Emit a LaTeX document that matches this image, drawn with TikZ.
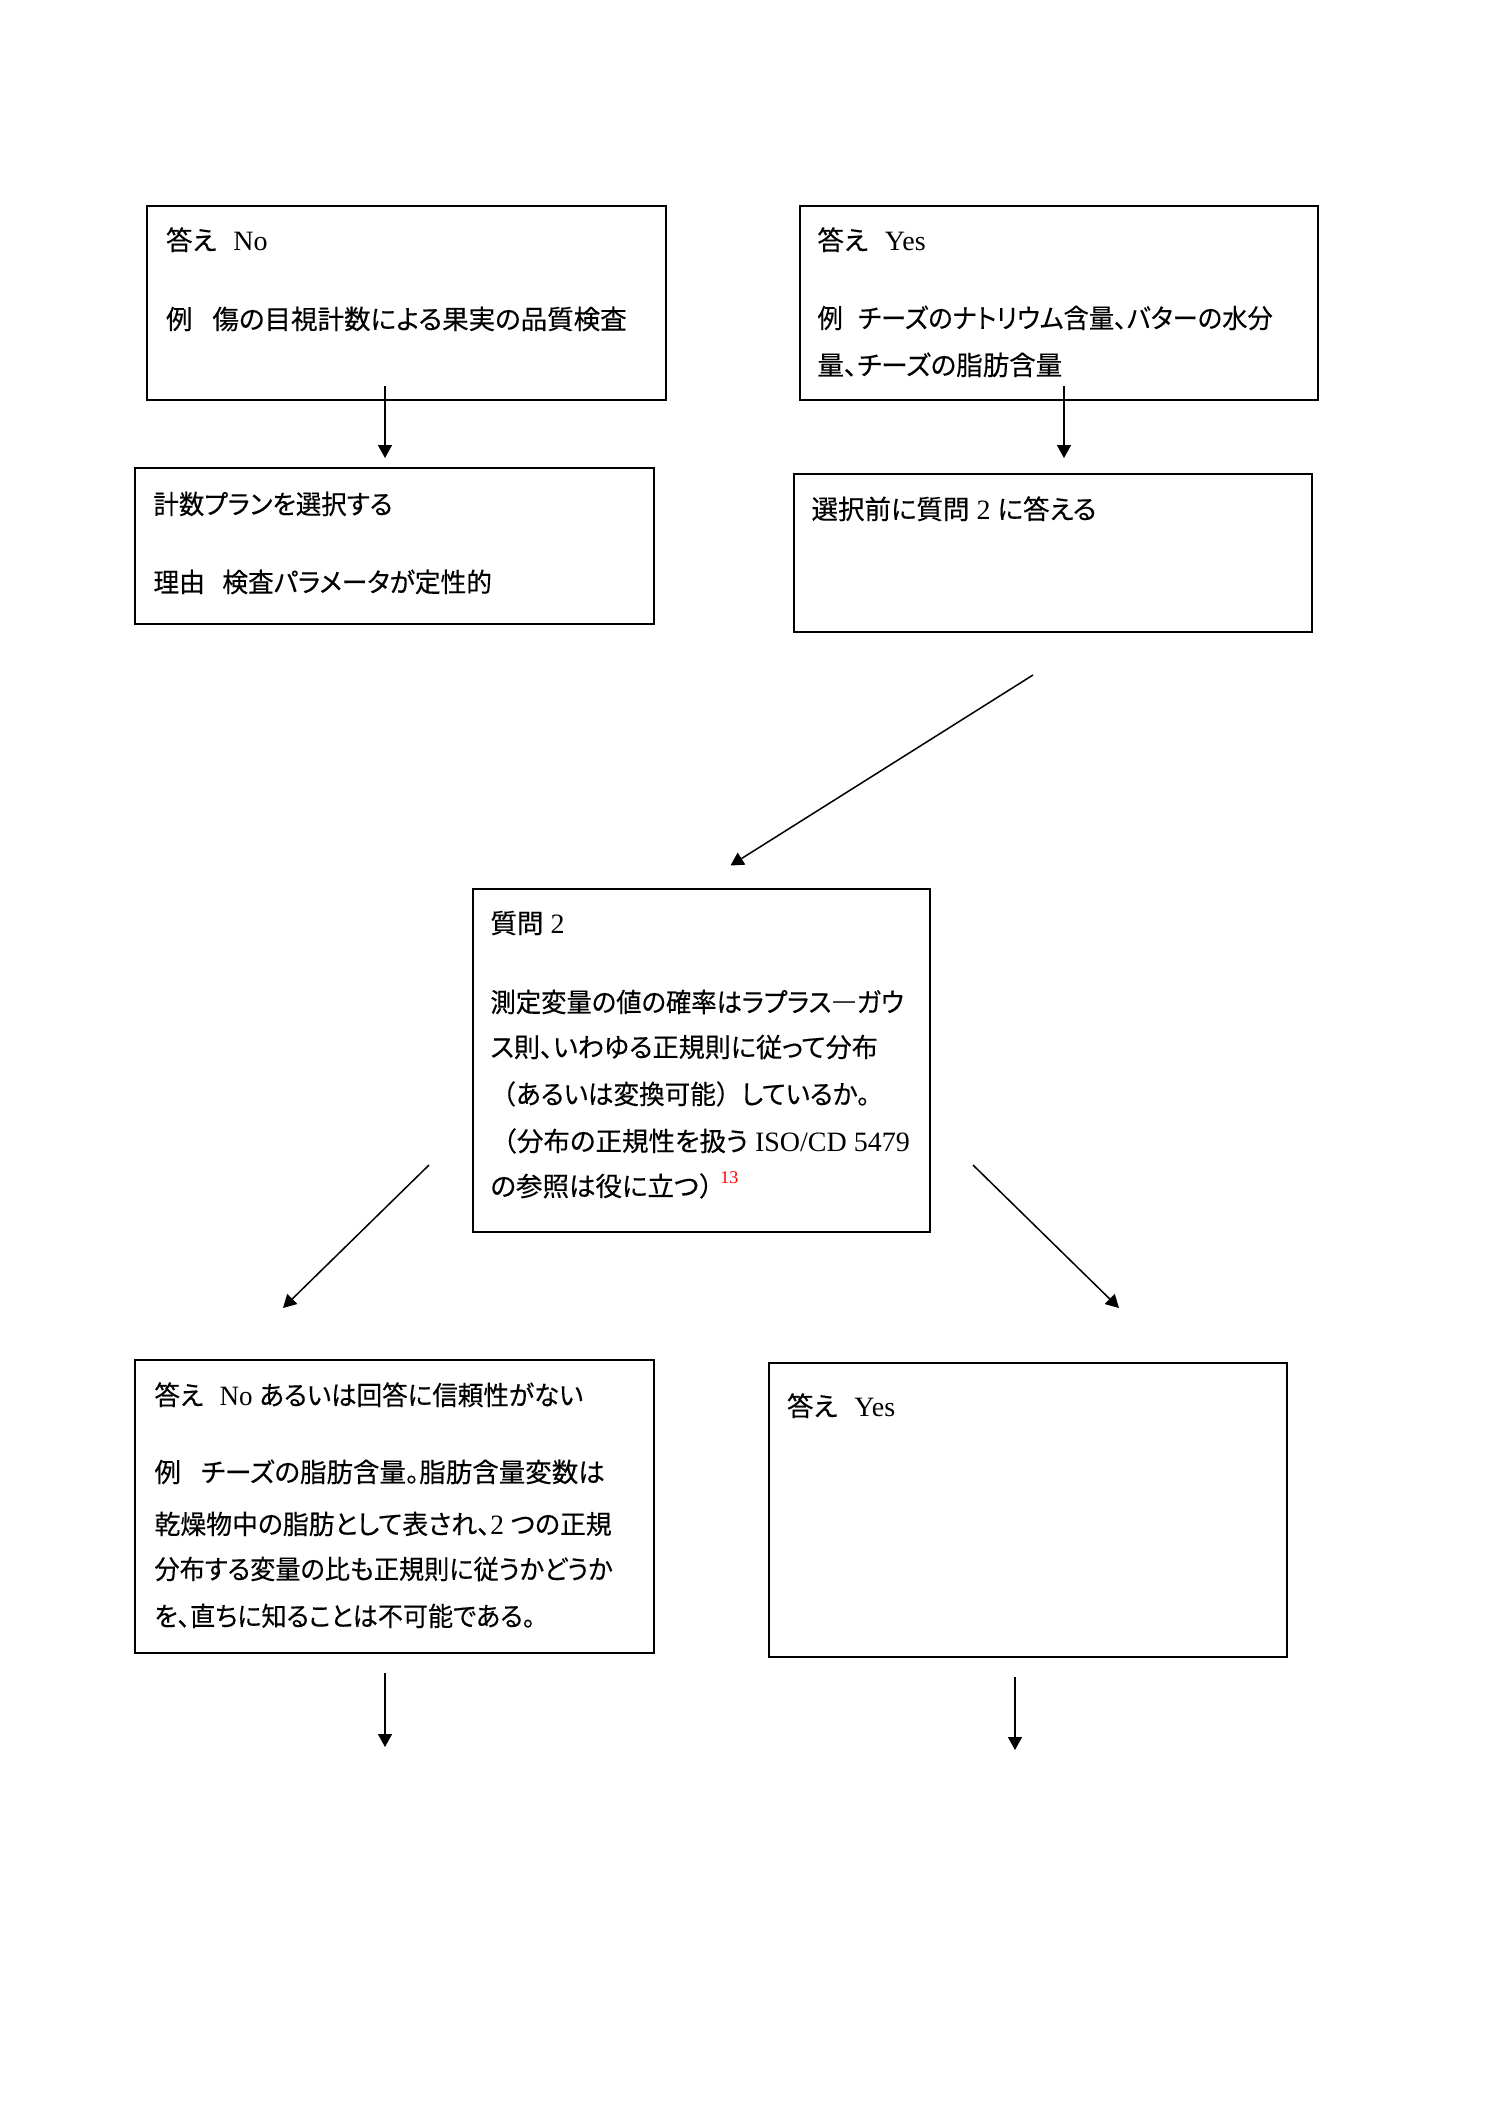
\documentclass[tikz,border=0pt]{standalone}
\usepackage{fontspec}
\usepackage{graphicx}
\setmainfont{Liberation Serif}[Scale=1.057]
\newfontfamily\jpfont{Noto Sans CJK JP}[RawFeature=+palt, FakeBold=0.3]
\newfontfamily\jpfull{Noto Sans CJK JP}[FakeBold=0.3]
\newcommand\J[1]{{\jpfont #1}}
\newcommand\Jf[1]{{\jpfull #1}}
\newcommand\sx[2]{\scalebox{#1}[1]{#2}}
\usetikzlibrary{arrows.meta}
\tikzset{
  box/.style={draw, line width=1pt, inner sep=0pt, outer sep=0pt, anchor=north west},
  txt/.style={anchor=base west, inner sep=0pt, outer sep=0pt, font=\fontsize{13.25pt}{16pt}\selectfont},
  fnote/.style={anchor=base west, inner sep=0pt, text=red, font=\fontsize{8.5pt}{9pt}\selectfont},
  arr/.style={line width=0.75pt, -{Triangle[length=6.5pt,width=7pt]}}
}
\begin{document}
\begin{tikzpicture}[x=0.5pt,y=-0.5pt]
\path[use as bounding box, fill=white] (0,0) rectangle (1500,2122);

% boxes
\node[box, minimum width=259.5pt, minimum height=97pt] (b1) at (147,206) {};
\node[box, minimum width=259.5pt, minimum height=78pt] (b2) at (135,468) {};
\node[box, minimum width=258.75pt, minimum height=97pt] (b3) at (800,206) {};
\node[box, minimum width=259pt, minimum height=79pt] (b4) at (794,474) {};
\node[box, minimum width=228.75pt, minimum height=171.5pt] (b5) at (472.5,889) {};
\node[box, minimum width=259.5pt, minimum height=146.5pt] (b6) at (135,1360) {};
\node[box, minimum width=259pt, minimum height=147pt] (b7) at (769,1363) {};

% box 1
\node[txt] (t1a) at (166,250) {\J{答え}\hspace{8.5pt}No};
\node[txt] (t1b) at (166,329) {\J{例}\hspace{10pt}\J{傷の目視計数による果実の品質検査}};
% box 2
\node[txt] (t2a) at (153.5,514) {\sx{0.96}{\J{計数プランを選択する}}};
\node[txt] (t2b) at (153.5,592) {\sx{0.97}{\J{理由}\hspace{9pt}\J{検査パラメータが定性的}}};
% box 3
\node[txt] (t3a) at (817.5,250) {\J{答え}\hspace{8.5pt}Yes};
\node[txt] (t3b) at (817.5,328) {\sx{0.955}{\J{例}\hspace{8pt}\J{チーズのナトリウム含量、バターの水分}}};
\node[txt] (t3c) at (817.5,375) {\J{量、チーズの脂肪含量}};
% box 4
\node[txt] (t4a) at (811.5,519) {\J{選択前に質問} 2 \J{に答える}};
% box 5
\node[txt] (t5a) at (490.5,933) {\J{質問} 2};
\node[txt] (t5b) at (490.5,1012) {\sx{0.956}{\J{測定変量の値の確率はラプラス―ガウ}}};
\node[txt] (t5c) at (490.5,1057) {\sx{0.985}{\J{ス則、いわゆる正規則に従って分布}}};
\node[txt] (t5d) at (490.5,1104) {\sx{0.965}{\Jf{（}\J{あるいは変換可能}\Jf{）}\J{しているか。}}};
\node[txt] (t5e) at (490.5,1151) {\Jf{（}\J{分布の正規性を扱う} ISO/CD 5479};
\node[txt] (t5f) at (490.5,1196) {\J{の参照は役に立つ}\Jf{）}};
\node[fnote] (fn13) at (720,1183) {13};
% box 6
\node[txt] (t6a) at (154.5,1405) {\sx{0.964}{\J{答え}\hspace{8.5pt}No \J{あるいは回答に信頼性がない}}};
\node[txt] (t6b) at (154.5,1482) {\J{例}\hspace{10pt}\J{チーズの脂肪含量。脂肪含量変数は}};
\node[txt] (t6c) at (154.5,1534) {\sx{0.976}{\J{乾燥物中の脂肪として表され、}2 \J{つの正規}}};
\node[txt] (t6d) at (154.5,1579) {\sx{0.95}{\J{分布する変量の比も正規則に従うかどうか}}};
\node[txt] (t6e) at (154.5,1626) {\sx{0.946}{\J{を、直ちに知ることは不可能である。}}};
% box 7
\node[txt] (t7a) at (787,1416) {\J{答え}\hspace{8.5pt}Yes};

% arrow end points
\coordinate (a1s) at (385,386);   \coordinate (a1e) at (385,458);
\coordinate (a2s) at (1064,386);  \coordinate (a2e) at (1064,458);
\coordinate (a3s) at (1033,675);  \coordinate (a3e) at (730.5,865.5);
\coordinate (a4s) at (429,1165);  \coordinate (a4e) at (283,1308);
\coordinate (a5s) at (973,1165);  \coordinate (a5e) at (1119,1308);
\coordinate (a6s) at (385,1673);  \coordinate (a6e) at (385,1747);
\coordinate (a7s) at (1015,1677); \coordinate (a7e) at (1015,1750);

\draw[arr] (a1s) -- (a1e);
\draw[arr] (a2s) -- (a2e);
\draw[arr] (a3s) -- (a3e);
\draw[arr] (a4s) -- (a4e);
\draw[arr] (a5s) -- (a5e);
\draw[arr] (a6s) -- (a6e);
\draw[arr] (a7s) -- (a7e);
\end{tikzpicture}
\end{document}
